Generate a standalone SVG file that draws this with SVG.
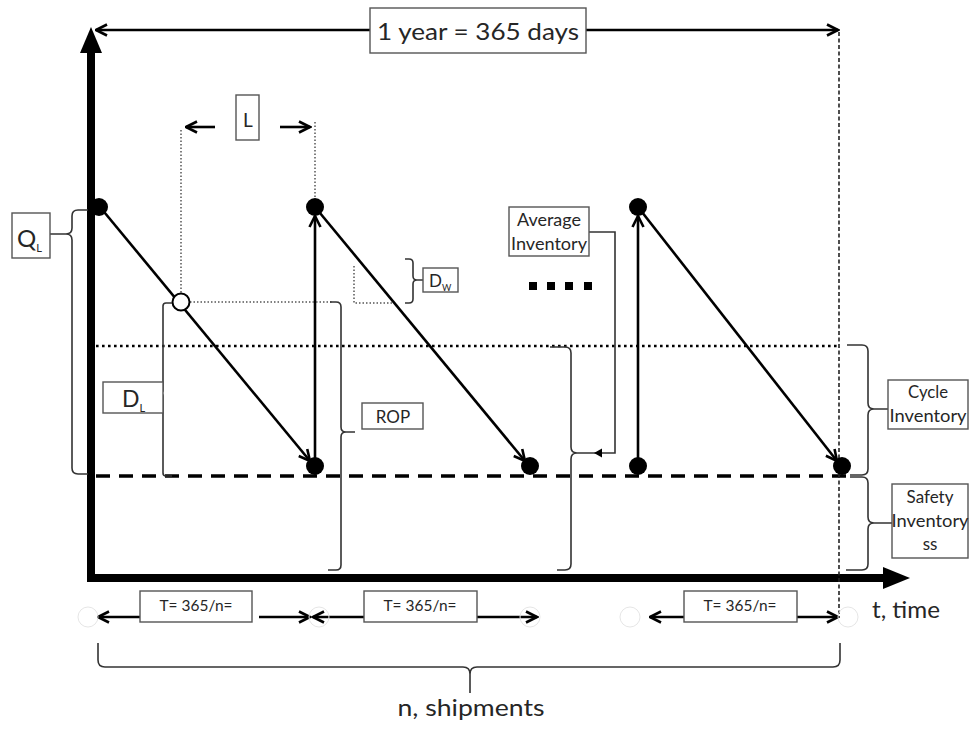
<svg xmlns="http://www.w3.org/2000/svg" width="972" height="731" viewBox="0 0 972 731">
  <style>
    text { font-family: Lato, "Open Sans", "Liberation Sans", sans-serif; fill: #262626; }
    .box { fill: #fff; stroke: #555; stroke-width: 1.4; }
    .ln { fill: none; stroke: #000; stroke-width: 2.6; }
    .thin { fill: none; stroke: #333; stroke-width: 1.6; }
    .fine-dot { fill: none; stroke: #555; stroke-width: 1.5; stroke-dasharray: 1.5 2; }
    .dot { fill: #000; }
    .ghost { fill: none; stroke: #e6e6e6; stroke-width: 1; }
    .c { text-anchor: middle; }
  </style>
  <defs>
    <marker id="chev" viewBox="0 0 14 14" refX="12.5" refY="7" markerWidth="14" markerHeight="14" markerUnits="userSpaceOnUse" orient="auto-start-reverse">
      <path d="M1.5,1.5 L12.5,7 L1.5,12.5" fill="none" stroke="#000" stroke-width="2.6" stroke-linejoin="miter"/>
    </marker>
  </defs>

  <!-- axes -->
  <g id="axes">
    <line x1="91" y1="50" x2="91" y2="582" stroke="#000" stroke-width="8"/>
    <polygon points="91,27 80,53 102,53" fill="#000"/>
    <line x1="87" y1="578" x2="885" y2="578" stroke="#000" stroke-width="8"/>
    <polygon points="910,578 883,567 883,589" fill="#000"/>
  </g>

  <!-- reference levels -->
  <g id="levels">
    <line x1="96" y1="346" x2="840" y2="346" stroke="#000" stroke-width="2.6" stroke-dasharray="2.6 3.4"/>
    <line x1="96" y1="476" x2="846" y2="476" stroke="#000" stroke-width="3.5" stroke-dasharray="14 9"/>
    <line x1="839" y1="32" x2="839" y2="614" stroke="#222" stroke-width="1.6" stroke-dasharray="4 2.5"/>
  </g>

  <!-- sawtooth inventory profile -->
  <g id="connectors">
    <line class="ln" x1="100" y1="207" x2="310" y2="461" marker-end="url(#chev)"/>
    <line class="ln" x1="315" y1="466" x2="315" y2="216" marker-end="url(#chev)"/>
    <line class="ln" x1="315" y1="207" x2="525" y2="461" marker-end="url(#chev)"/>
    <line class="ln" x1="638" y1="466" x2="638" y2="216" marker-end="url(#chev)"/>
    <line class="ln" x1="638" y1="207" x2="837" y2="461" marker-end="url(#chev)"/>

    <!-- year span -->
    <line class="ln" x1="96" y1="30" x2="370" y2="30" marker-start="url(#chev)"/>
    <line class="ln" x1="586" y1="30" x2="838" y2="30" marker-end="url(#chev)"/>

    <!-- lead time span -->
    <line class="ln" x1="215" y1="127" x2="186" y2="127" marker-end="url(#chev)"/>
    <line class="ln" x1="280" y1="127" x2="310" y2="127" marker-end="url(#chev)"/>

    <!-- lead time guides -->
    <line class="fine-dot" x1="181" y1="130" x2="181" y2="293"/>
    <line class="fine-dot" x1="315" y1="122" x2="315" y2="198"/>
    <line class="fine-dot" x1="190" y1="302" x2="332" y2="302"/>
    <polyline class="fine-dot" points="354,266 354,303 392,303"/>

    <!-- cycle period spans -->
    <line class="ln" x1="140" y1="617" x2="98" y2="617" marker-end="url(#chev)"/>
    <line class="ln" x1="259" y1="617" x2="310" y2="617" marker-end="url(#chev)"/>
    <line class="ln" x1="364" y1="617" x2="313" y2="617" marker-end="url(#chev)"/>
    <line class="ln" x1="477" y1="617" x2="537" y2="617" marker-end="url(#chev)"/>
    <line class="ln" x1="684" y1="617" x2="650" y2="617" marker-end="url(#chev)"/>
    <line class="ln" x1="797" y1="617" x2="838" y2="617" marker-end="url(#chev)"/>

    <!-- average inventory pointer -->
    <path class="thin" d="M589,232 H615 V453 H577"/>
    <polygon points="594,453 602,448.5 602,457.5" fill="#000"/>
  </g>

  <!-- order points -->
  <g id="points">
    <circle class="dot" cx="99" cy="207" r="9"/>
    <circle class="dot" cx="315" cy="207" r="9"/>
    <circle class="dot" cx="315" cy="466" r="9"/>
    <circle class="dot" cx="530" cy="466" r="9"/>
    <circle class="dot" cx="638" cy="207" r="9"/>
    <circle class="dot" cx="638" cy="466" r="9"/>
    <circle class="dot" cx="842" cy="466" r="9"/>
    <circle cx="181" cy="302" r="8.5" fill="#fff" stroke="#000" stroke-width="2"/>
    <circle class="ghost" cx="88" cy="617" r="10"/>
    <circle class="ghost" cx="319" cy="617" r="10"/>
    <circle class="ghost" cx="530" cy="617" r="10"/>
    <circle class="ghost" cx="630" cy="617" r="10"/>
    <circle class="ghost" cx="848" cy="617" r="10"/>
  </g>

  <!-- continuation marks -->
  <g id="ellipsis">
    <rect x="529" y="282" width="8" height="8" fill="#000"/>
    <rect x="547" y="282" width="8" height="8" fill="#000"/>
    <rect x="565" y="282" width="8" height="8" fill="#000"/>
    <rect x="584" y="282" width="8" height="8" fill="#000"/>
  </g>

  <!-- braces -->
  <g id="braces">
    <!-- Q_L -->
    <path class="thin" d="M88,210 H78 Q72,210 72,216 V228 Q72,234 66,234 H50 M66,234 Q72,234 72,240 V468 Q72,474 78,474 H88"/>
    <!-- D_L -->
    <path class="thin" d="M172,303 H166 Q163,303 163,306 V390 Q163,393 160,393 H155 M160,393 Q163,393 163,396 V473 Q163,476 166,476 H172"/>
    <!-- ROP -->
    <path class="thin" d="M330,302 H336 Q341,302 341,307 V427 Q341,432 346,432 H355 M346,432 Q341,432 341,437 V565 Q341,570 336,570 H328"/>
    <!-- D_w -->
    <path class="thin" d="M405,259 H409 Q413,259 413,263 V276 Q413,280 417,280 H423 M417,280 Q413,280 413,284 V299 Q413,303 409,303 H405"/>
    <!-- average -->
    <path class="thin" d="M550,347 H565 Q571,347 571,353 V447 Q571,453 577,453 M577,453 Q571,453 571,459 V564 Q571,570 565,570 H557"/>
    <!-- cycle -->
    <path class="thin" d="M847,345 H862 Q868,345 868,351 V403 Q868,409 874,409 H888 M874,409 Q868,409 868,415 V469 Q868,475 862,475 H850"/>
    <!-- safety -->
    <path class="thin" d="M850,477 H862 Q868,477 868,483 V517 Q868,523 874,523 H892 M874,523 Q868,523 868,529 V564 Q868,570 862,570 H846"/>
    <!-- shipments -->
    <path class="thin" d="M98,643 V660 Q98,667 105,667 H463 Q470,667 470,674 V693 M470,674 Q470,667 477,667 H833 Q840,667 840,660 V643"/>
  </g>

  <!-- labels -->
  <g id="label-year">
    <rect class="box" x="370" y="8" width="216" height="45"/>
    <text class="c" x="478" y="40" font-size="24" textLength="202" lengthAdjust="spacingAndGlyphs">1 year = 365 days</text>
  </g>
  <g id="label-L">
    <rect class="box" x="236" y="95" width="23" height="45"/>
    <text class="c" x="248" y="127" font-size="19">L</text>
  </g>
  <g id="label-QL">
    <rect class="box" x="12" y="213" width="38" height="45"/>
    <text x="17" y="247" font-size="24">Q<tspan font-size="11" dy="5">L</tspan></text>
  </g>
  <g id="label-DL">
    <rect class="box" x="103" y="382" width="60" height="31"/>
    <text x="122" y="407" font-size="23">D<tspan font-size="11" dy="5">L</tspan></text>
  </g>
  <g id="label-Dw">
    <rect class="box" x="423" y="268" width="35" height="24"/>
    <text x="429" y="287" font-size="17">D<tspan font-size="9" dy="4">W</tspan></text>
  </g>
  <g id="label-ROP">
    <rect class="box" x="362" y="403" width="61" height="26"/>
    <text class="c" x="393" y="423" font-size="17">ROP</text>
  </g>
  <g id="label-average">
    <rect class="box" x="509" y="207" width="80" height="49"/>
    <text class="c" x="549" y="226" font-size="17.5" textLength="64" lengthAdjust="spacingAndGlyphs">Average</text>
    <text class="c" x="549" y="250" font-size="17" textLength="76" lengthAdjust="spacingAndGlyphs">Inventory</text>
  </g>
  <g id="label-cycle">
    <rect class="box" x="888" y="380" width="80" height="49"/>
    <text class="c" x="928" y="398" font-size="17" textLength="40" lengthAdjust="spacingAndGlyphs">Cycle</text>
    <text class="c" x="928" y="422" font-size="17" textLength="77" lengthAdjust="spacingAndGlyphs">Inventory</text>
  </g>
  <g id="label-safety">
    <rect class="box" x="892" y="484" width="76" height="74"/>
    <text class="c" x="930" y="503" font-size="17">Safety</text>
    <text class="c" x="930" y="527" font-size="17" textLength="77" lengthAdjust="spacingAndGlyphs">Inventory</text>
    <text class="c" x="930" y="550" font-size="17">ss</text>
  </g>
  <g id="label-T1">
    <rect class="box" x="140" y="591" width="112" height="31"/>
    <text class="c" x="196" y="611" font-size="16" textLength="73" lengthAdjust="spacingAndGlyphs">T= 365/n=</text>
  </g>
  <g id="label-T2">
    <rect class="box" x="364" y="591" width="113" height="31"/>
    <text class="c" x="420" y="611" font-size="16" textLength="73" lengthAdjust="spacingAndGlyphs">T= 365/n=</text>
  </g>
  <g id="label-T3">
    <rect class="box" x="684" y="591" width="113" height="31"/>
    <text class="c" x="740" y="611" font-size="16" textLength="73" lengthAdjust="spacingAndGlyphs">T= 365/n=</text>
  </g>
  <g id="label-time">
    <text x="872" y="618" font-size="24" textLength="68" lengthAdjust="spacingAndGlyphs">t, time</text>
  </g>
  <g id="label-shipments">
    <text class="c" x="471" y="716" font-size="24" textLength="147" lengthAdjust="spacingAndGlyphs">n, shipments</text>
  </g>
</svg>
